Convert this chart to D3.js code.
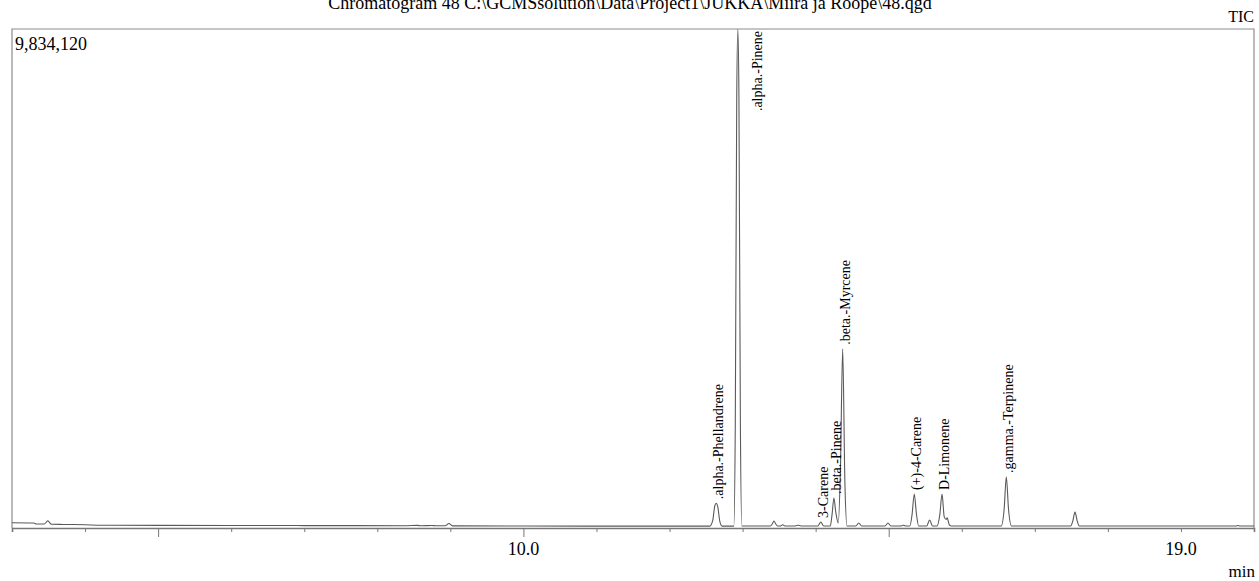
<!DOCTYPE html>
<html>
<head>
<meta charset="utf-8">
<script src="https://cdn.jsdelivr.net/npm/d3@7"></script>
<style>
  body { margin: 0; background: #fff; }
  text { font-family: "Liberation Serif", "Times New Roman", serif; fill: #000; }
</style>
</head>
<body>
<script>
// retention time (min) and intensity
const traceTimes = [
  3.00, 3.30, 3.33, 3.44, 3.49, 3.54, 3.70, 4.00, 4.20, 5.00, 6.00, 7.00, 8.40, 8.55, 8.60, 8.75, 8.80, 8.93, 8.98, 9.03,
  10.0, 11.0, 12.0, 12.55, 12.59, 12.62, 12.64, 12.66, 12.69, 12.72,
  12.88, 12.90, 12.92, 12.935, 12.95, 12.97, 12.99,
  13.38, 13.41, 13.43, 13.45, 13.48, 13.52, 13.55, 13.58, 13.72, 13.76, 13.80,
  14.03, 14.07, 14.11,
  14.20, 14.225, 14.25, 14.275, 14.31, 14.34, 14.37, 14.40, 14.43,
  14.55, 14.59, 14.63, 14.95, 14.99, 15.03, 15.17, 15.20, 15.23,
  15.29, 15.32, 15.35, 15.38, 15.41, 15.52, 15.56, 15.60,
  15.66, 15.70, 15.73, 15.76, 15.785, 15.80, 15.83, 15.86,
  16.54, 16.58, 16.61, 16.64, 16.68,
  17.49, 17.52, 17.55, 17.58, 17.61,
  19.75, 19.78, 19.81, 20.0
];
const traceValues = [
  85000, 80000, 60000, 58000, 120000, 55000, 50000, 45000, 35000, 32000, 30000, 28000, 26000, 32000, 24000, 30000, 24000, 24000, 70000, 22000,
  20000, 18000, 18000, 18000, 120000, 420000, 470000, 400000, 100000, 18000,
  18000, 2000000, 8500000, 9834120, 8500000, 2000000, 20000,
  20000, 70000, 118000, 70000, 20000, 20000, 45000, 20000, 20000, 35000, 20000,
  20000, 100000, 20000,
  20000, 250000, 573000, 300000, 80000, 1200000, 3520000, 900000, 20000,
  20000, 80000, 20000, 20000, 80000, 20000, 20000, 35000, 20000,
  20000, 250000, 652000, 250000, 20000, 20000, 138000, 20000,
  20000, 250000, 652000, 200000, 150000, 180000, 40000, 20000,
  20000, 350000, 988000, 350000, 20000,
  20000, 120000, 296000, 120000, 20000,
  20000, 30000, 20000, 20000
];

const peakNames = [".alpha.-Phellandrene", ".alpha.-Pinene", "3-Carene", ".beta.-Pinene",
  ".beta.-Myrcene", "(+)-4-Carene", "D-Limonene", ".gamma.-Terpinene"];
const peakTimes = [12.64, 12.935, 14.07, 14.25, 14.37, 15.35, 15.73, 16.61];
const peakHeights = [470000, 9834120, 100000, 573000, 3520000, 652000, 652000, 988000];

const tickTimes = d3.range(3, 20, 1);
const labelTimes = [10, 19];
const labelTexts = ["10.0", "19.0"];

const maxIntensity = 9834120;
const titleText = "Chromatogram 48 C:\\GCMSsolution\\Data\\Project1\\JUKKA\\Miira ja Roope\\48.qgd";

const width = 1259, height = 581;
const plotLeft = 12, plotRight = 1254, plotTop = 29, plotBottom = 528;

const svg = d3.select("body").append("svg")
  .attr("width", width)
  .attr("height", height);

const x = d3.scaleLinear().domain([3, 20]).range([plotLeft, plotRight]);
const y = d3.scaleLinear().domain([0, maxIntensity]).range([plotBottom - 1, plotTop]);

svg.append("clipPath").attr("id", "plot")
  .append("rect")
  .attr("x", plotLeft).attr("y", plotTop)
  .attr("width", plotRight - plotLeft).attr("height", plotBottom - plotTop);

// frame
svg.append("path")
  .attr("d", `M${plotLeft},${plotBottom}V${plotTop}H${plotRight}V${plotBottom}`)
  .attr("fill", "none")
  .attr("stroke", "#8c8c8c")
  .attr("stroke-width", 1.2);

// trace
const trace = traceTimes.map((t, i) => [t, traceValues[i]]);
svg.append("path")
  .datum(trace)
  .attr("clip-path", "url(#plot)")
  .attr("fill", "none")
  .attr("stroke", "#5a5a5a")
  .attr("stroke-width", 1.1)
  .attr("d", d3.line().x(d => x(d[0])).y(d => y(d[1])).curve(d3.curveMonotoneX));

// bottom axis
const axis = svg.append("g")
  .attr("transform", `translate(0,${plotBottom})`)
  .call(d3.axisBottom(x).tickValues(tickTimes).tickSize(4).tickFormat(""));
axis.select(".domain").attr("stroke", "#777").attr("stroke-width", 1.6);
axis.selectAll(".tick line")
  .attr("stroke", "#777")
  .attr("y2", d => d % 5 === 0 ? 9 : 4);

svg.selectAll(".xlabel")
  .data(labelTimes)
  .join("text")
  .attr("class", "xlabel")
  .attr("x", d => x(d))
  .attr("y", 555)
  .attr("text-anchor", "middle")
  .style("font-size", "18px")
  .text((d, i) => labelTexts[i]);

svg.append("text")
  .attr("x", plotRight + 1)
  .attr("y", 577)
  .attr("text-anchor", "end")
  .style("font-size", "17px")
  .text("min");

// headers
svg.append("text")
  .attr("x", 630)
  .attr("y", 9)
  .attr("text-anchor", "middle")
  .style("font-size", "18px")
  .text(titleText);

svg.append("text")
  .attr("x", plotRight)
  .attr("y", 22)
  .attr("text-anchor", "end")
  .style("font-size", "16px")
  .text("TIC");

svg.append("text")
  .attr("x", plotLeft + 3)
  .attr("y", 50)
  .style("font-size", "18px")
  .text(d3.format(",")(maxIntensity));

// peak labels
svg.selectAll(".peak")
  .data(peakNames)
  .join("text")
  .attr("class", "peak")
  .style("font-size", "14px")
  .attr("dy", "0.35em")
  .attr("text-anchor", (d, i) => peakHeights[i] >= maxIntensity ? "end" : "start")
  .attr("transform", (d, i) => {
    const clipped = peakHeights[i] >= maxIntensity;
    const px = x(peakTimes[i]) + (clipped ? 19 : 2);
    const py = clipped ? plotTop + 2 : y(peakHeights[i]) - 4;
    return `translate(${px},${py}) rotate(-90)`;
  })
  .text(d => d);
</script>
</body>
</html>
